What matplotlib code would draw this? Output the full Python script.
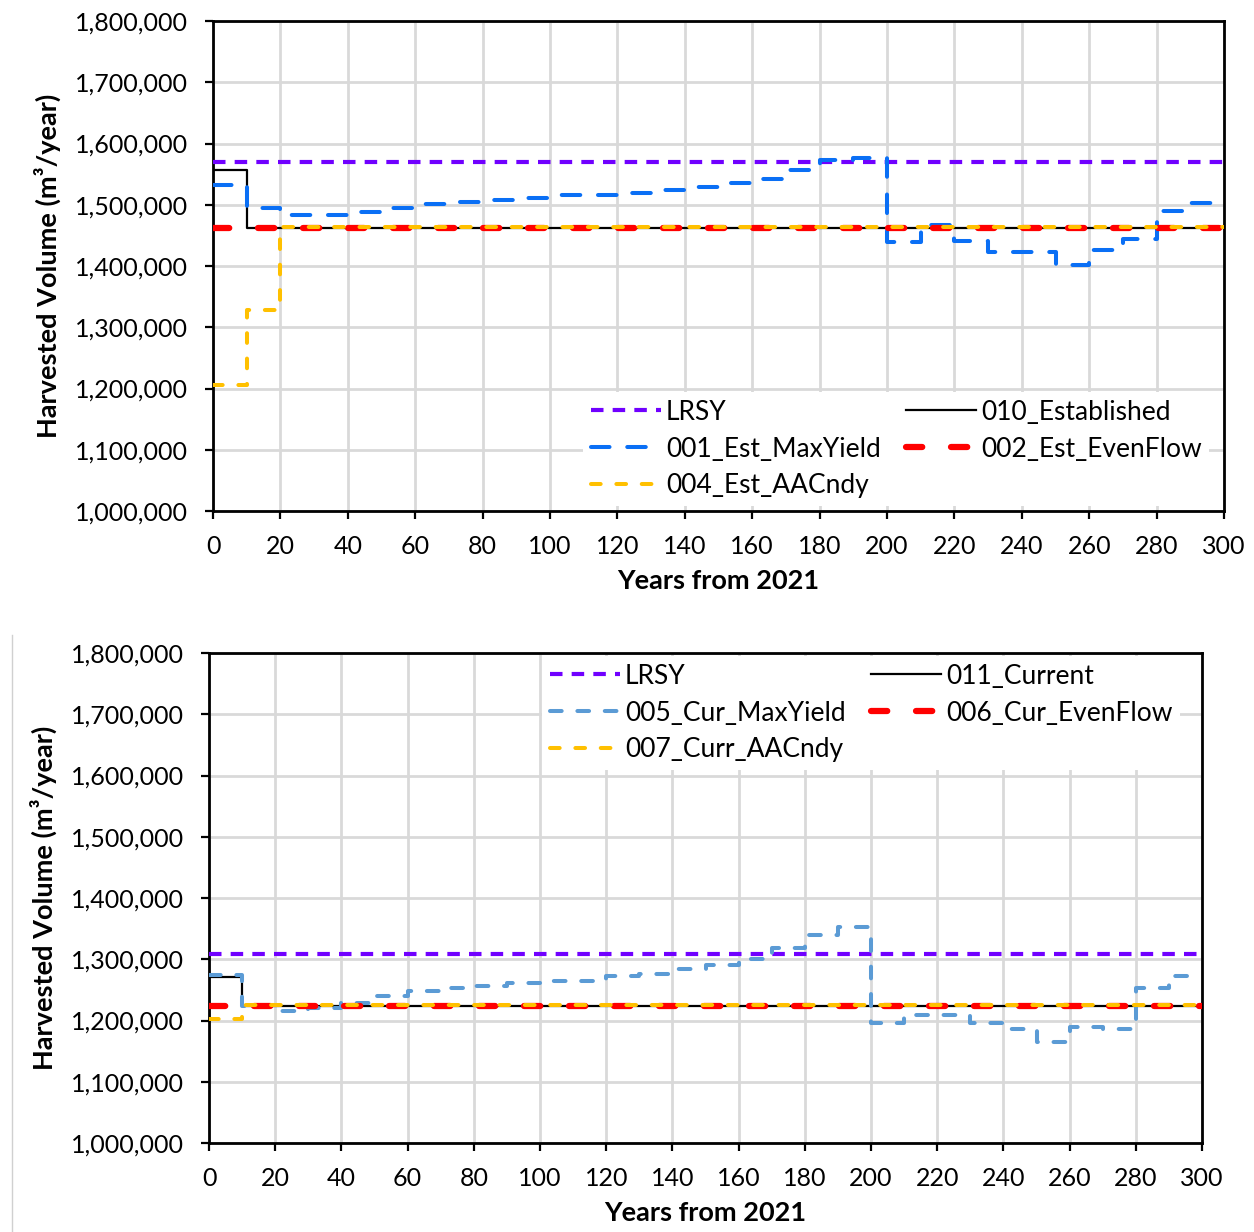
import matplotlib
matplotlib.use("Agg")
import matplotlib.pyplot as plt
from matplotlib.lines import Line2D
from matplotlib.ticker import FuncFormatter, MultipleLocator
import numpy as np

plt.rcParams['font.family'] = ['Lato', 'DejaVu Sans']

years = list(range(0, 301, 10))  # step starts (steps-post), last value repeats

# ---- Top panel (Established) ----
top_lrsy = 1570000
top_010 = [1557000] + [1462000] * 30
top_002 = [1462000] * 31
top_004 = [1206000, 1328000] + [1464000] * 29
top_001 = [1532000, 1494000, 1483000, 1483000, 1489000, 1495000, 1501000, 1505000,
           1508000, 1511000, 1516000, 1516000, 1520000, 1524000, 1529000, 1536000,
           1542000, 1557000, 1573000, 1577000, 1440000, 1467000, 1441000, 1423000,
           1423000, 1402000, 1426000, 1444000, 1490000, 1503000]
top_001 = top_001 + [top_001[-1]]

# ---- Bottom panel (Current) ----
bot_lrsy = 1308000
bot_011 = [1271000] + [1223000] * 30
bot_006 = [1224000] * 31
bot_007 = [1202000] + [1225000] * 30
bot_005 = [1275000, 1224000, 1216000, 1221000, 1228000, 1240000, 1249000, 1253000,
           1256000, 1261000, 1264000, 1265000, 1272000, 1276000, 1284000, 1291000,
           1300000, 1318000, 1340000, 1352000, 1196000, 1209000, 1209000, 1196000,
           1187000, 1165000, 1190000, 1187000, 1253000, 1273000]
bot_005 = bot_005 + [bot_005[-1]]

top_labels = ["LRSY", "001_Est_MaxYield", "004_Est_AACndy", "010_Established", "002_Est_EvenFlow"]
bot_labels = ["LRSY", "005_Cur_MaxYield", "007_Curr_AACndy", "011_Current", "006_Cur_EvenFlow"]

fig = plt.figure(figsize=(12.54, 12.32), dpi=100)
ax1 = fig.add_axes([0.1699, 0.5852, 0.8062, 0.3977])
ax2 = fig.add_axes([0.1667, 0.0722, 0.7919, 0.3977])

PURPLE = '#7000FF'
RED = '#FF0000'
GOLD = '#FFC000'
FS_TICK = 18
FS_LAB = 19.5
FS_LEG = 19


def draw(ax, lrsy, maxy, aac, base, even, labels, blue, blue_dash, legxy):
    h_lrsy, = ax.plot([0, 300], [lrsy, lrsy], color=PURPLE, lw=3, dashes=(3.0, 2.2), zorder=3)
    h_max, = ax.plot(years, maxy, drawstyle='steps-post', color=blue, lw=2.9,
                     dashes=blue_dash, dash_capstyle='round', zorder=4)
    h_aac, = ax.plot(years, aac, drawstyle='steps-post', color=GOLD, lw=2.9,
                     dashes=(2.4, 3.9), dash_capstyle='round', zorder=6)
    h_base, = ax.plot(years, base, drawstyle='steps-post', color='black', lw=1.6, zorder=3)
    h_even, = ax.plot(years, even, drawstyle='steps-post', color=RED, lw=4.5,
                      dashes=(2.6, 4.6), dash_capstyle='round', zorder=5)
    ax.set_xlim(0, 300)
    ax.set_ylim(1000000, 1800000)
    ax.xaxis.set_major_locator(MultipleLocator(20))
    ax.yaxis.set_major_locator(MultipleLocator(100000))
    ax.yaxis.set_major_formatter(FuncFormatter(lambda v, p: f"{int(round(v)):,}"))
    ax.grid(True, color='#D9D9D9', lw=2, zorder=0)
    ax.set_axisbelow(True)
    for s in ax.spines.values():
        s.set_color('black')
        s.set_linewidth(2)
    ax.tick_params(axis='both', direction='out', length=6, width=1.6, labelsize=FS_TICK)
    ax.tick_params(axis='y', pad=12)
    ax.tick_params(axis='x', pad=11)
    ax.set_xlabel("Years from 2021", fontsize=FS_LAB, fontweight='bold', labelpad=8)
    ax.set_ylabel("Harvested Volume (m³/year)", fontsize=FS_LAB, fontweight='bold', labelpad=10)
    leg = ax.legend([h_lrsy, h_max, h_aac, h_base, h_even], labels, ncol=2,
                    loc='center', bbox_to_anchor=legxy, fontsize=FS_LEG,
                    frameon=True, facecolor='white', edgecolor='none', framealpha=1,
                    fancybox=False, handlelength=2.65, handletextpad=0.2,
                    columnspacing=0.95, labelspacing=0.45, borderpad=0.3)
    leg.set_zorder(10)


draw(ax1, top_lrsy, top_001, top_004, top_010, top_002, top_labels, '#0A6FF5',
     (4.6, 4.4), (0.6756, 0.1265))
draw(ax2, bot_lrsy, bot_005, bot_007, bot_011, bot_006, bot_labels, '#5B9BD5',
     (2.9, 3.9), (0.6566, 0.8776))

fig.add_artist(Line2D([12 / 1254, 12 / 1254], [0, 1 - 635 / 1232], transform=fig.transFigure,
                      color='#D0D0D0', lw=1))

fig.savefig("out.png", dpi=100)
